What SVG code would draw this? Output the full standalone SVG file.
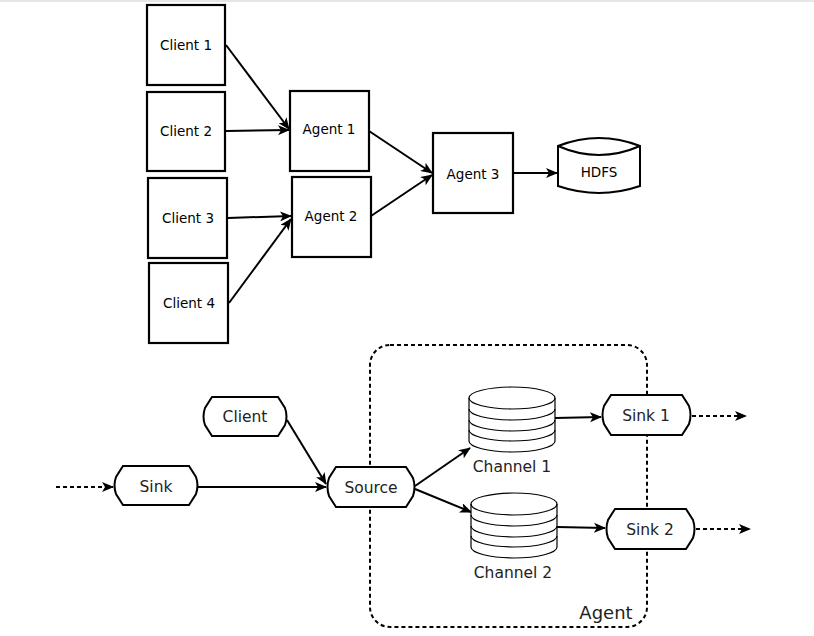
<svg xmlns="http://www.w3.org/2000/svg" width="814" height="636" viewBox="0 0 814 636">
<style>
.box{fill:#fff;stroke:#000;stroke-width:2.2}
.t{font-family:"DejaVu Sans",sans-serif;font-size:13.5px;fill:#000;text-anchor:middle}
.b{font-family:"DejaVu Sans",sans-serif;font-size:15.5px;fill:#222;text-anchor:middle}
.term{fill:#fff;stroke:#000;stroke-width:2}
.cyl{fill:#fff;stroke:#000;stroke-width:1.2}
.e{fill:none;stroke:#000;stroke-width:2}
.d{fill:none;stroke:#000;stroke-width:2;stroke-dasharray:4 3}
</style>
<defs>
<marker id="ah" viewBox="0 0 12 10" refX="11" refY="5" markerWidth="12" markerHeight="10" markerUnits="userSpaceOnUse" orient="auto">
<path d="M0,0 L12,5 L0,10 L3,5 Z" fill="#000"/>
</marker>
</defs>
<rect x="0" y="0" width="814" height="2" fill="#e6e6e6"/>

<g id="agent-boundary">
<rect x="370" y="345" width="277" height="282" rx="20" ry="20" class="d"/>
<text x="606" y="619" class="b" style="font-size:18px">Agent</text>
</g>

<g id="connectors">
<line x1="226" y1="45" x2="289" y2="129" class="e" marker-end="url(#ah)"/>
<line x1="226" y1="131" x2="289" y2="130" class="e" marker-end="url(#ah)"/>
<line x1="228" y1="218" x2="291" y2="216" class="e" marker-end="url(#ah)"/>
<line x1="229" y1="303" x2="291" y2="219" class="e" marker-end="url(#ah)"/>
<line x1="369" y1="131" x2="432" y2="173" class="e" marker-end="url(#ah)"/>
<line x1="371" y1="216" x2="432" y2="175" class="e" marker-end="url(#ah)"/>
<line x1="513" y1="173" x2="557" y2="173" class="e" marker-end="url(#ah)"/>

<line x1="56" y1="487" x2="113" y2="487" class="d" marker-end="url(#ah)"/>
<line x1="198" y1="487" x2="326" y2="487" class="e" marker-end="url(#ah)"/>
<line x1="287" y1="420" x2="326" y2="484" class="e" marker-end="url(#ah)"/>
<line x1="415" y1="486" x2="470" y2="448" class="e" marker-end="url(#ah)"/>
<line x1="415" y1="489" x2="471" y2="512" class="e" marker-end="url(#ah)"/>
<line x1="555" y1="418" x2="601" y2="417" class="e" marker-end="url(#ah)"/>
<line x1="557" y1="527" x2="605" y2="528" class="e" marker-end="url(#ah)"/>
<line x1="692" y1="416" x2="746" y2="416" class="d" marker-end="url(#ah)"/>
<line x1="696" y1="529" x2="750" y2="529" class="d" marker-end="url(#ah)"/>
</g>

<g id="client1"><rect x="147" y="5" width="78" height="80" class="box"/><text x="186" y="50" class="t">Client 1</text></g>
<g id="client2"><rect x="147" y="92" width="78" height="79" class="box"/><text x="186" y="136" class="t">Client 2</text></g>
<g id="client3"><rect x="148" y="178" width="79" height="80" class="box"/><text x="188" y="223" class="t">Client 3</text></g>
<g id="client4"><rect x="149" y="263" width="79" height="80" class="box"/><text x="189" y="308" class="t">Client 4</text></g>
<g id="agent1"><rect x="290" y="91" width="79" height="80" class="box"/><text x="329" y="134" class="t">Agent 1</text></g>
<g id="agent2"><rect x="292" y="177" width="79" height="80" class="box"/><text x="331" y="221" class="t">Agent 2</text></g>
<g id="agent3"><rect x="433" y="133" width="80" height="80" class="box"/><text x="473" y="179" class="t">Agent 3</text></g>
<g id="hdfs">
<path d="M558,146 Q599,130 640,146 V186 Q599,200 558,186 Z" fill="#fff" stroke="#000" stroke-width="2"/>
<path d="M558,146 Q599,164 640,146" fill="none" stroke="#000" stroke-width="2"/>
<text x="599" y="177" class="t">HDFS</text>
</g>

<g id="client"><path d="M212,397 H278 L285,408 Q288,416.5 285,425 L278,436 H212 L205,425 Q202,416.5 205,408 Z" class="term"/><text x="245" y="422" class="b">Client</text></g>
<g id="sink"><path d="M123,466 H189 L196,477 Q199,485.5 196,494 L189,505 H123 L116,494 Q113,485.5 116,477 Z" class="term"/><text x="156" y="492" class="b">Sink</text></g>
<g id="source"><path d="M336,467 H406 L413,478 Q416,487 413,496 L406,507 H336 L329,496 Q326,487 329,478 Z" class="term"/><text x="371" y="493" class="b">Source</text></g>
<g id="sink1"><path d="M611,395 H682 L689,406 Q692,415 689,424 L682,435 H611 L604,424 Q601,415 604,406 Z" class="term"/><text x="646" y="421" class="b">Sink 1</text></g>
<g id="sink2"><path d="M615,509 H686 L693,520 Q696,529 693,538 L686,549 H615 L608,538 Q605,529 608,520 Z" class="term"/><text x="650" y="535" class="b">Sink 2</text></g>

<g id="channel1">
<path d="M469,398 A43,11 0 0 1 555,398 V441 A43,11 0 0 1 469,441 Z" class="cyl"/>
<path d="M469,398 A43,11 0 0 0 555,398 M469,409 A43,11 0 0 0 555,409 M469,420 A43,11 0 0 0 555,420 M469,430 A43,11 0 0 0 555,430" fill="none" stroke="#000" stroke-width="1.2"/>
<text x="512" y="472" class="b">Channel 1</text>
</g>
<g id="channel2">
<path d="M471,504 A43,11 0 0 1 557,504 V547 A43,11 0 0 1 471,547 Z" class="cyl"/>
<path d="M471,504 A43,11 0 0 0 557,504 M471,515 A43,11 0 0 0 557,515 M471,526 A43,11 0 0 0 557,526 M471,536 A43,11 0 0 0 557,536" fill="none" stroke="#000" stroke-width="1.2"/>
<text x="513" y="578" class="b">Channel 2</text>
</g>
</svg>
